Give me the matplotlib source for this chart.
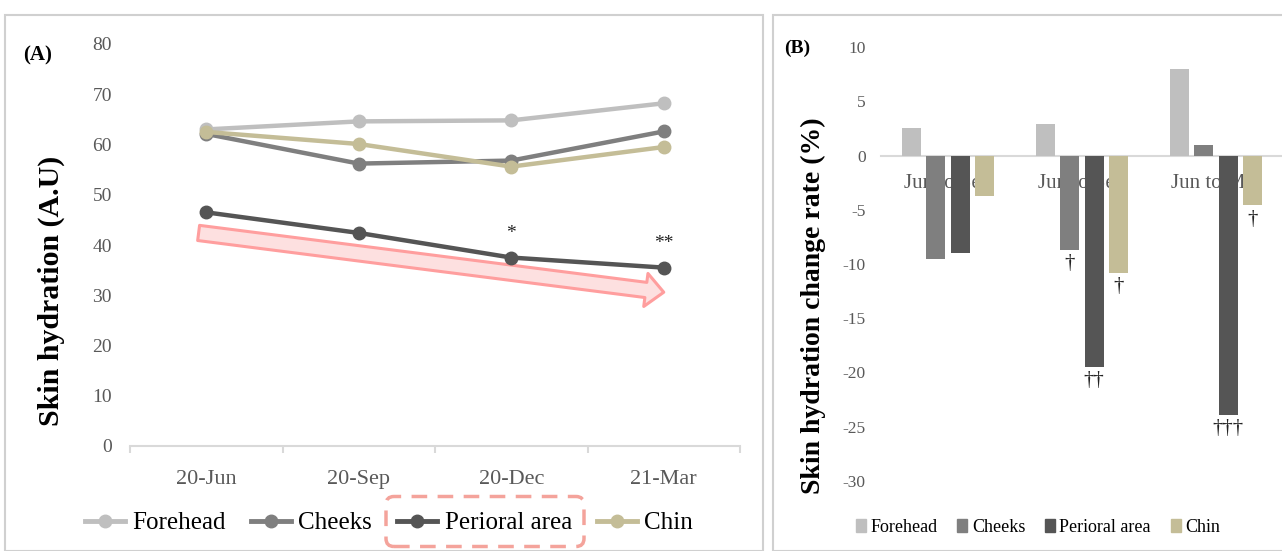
import numpy as np
import matplotlib.pyplot as plt
from matplotlib.lines import Line2D
from matplotlib.patches import Patch, Rectangle, FancyArrowPatch, FancyBboxPatch

plt.rcParams['font.family'] = ['Liberation Serif', 'DejaVu Serif']
plt.rcParams['axes.unicode_minus'] = False

# panel A data: skin hydration (A.U)
months = ['20-Jun', '20-Sep', '20-Dec', '21-Mar']
forehead = [63.0, 64.6, 64.8, 68.2]
cheeks = [62.1, 56.2, 56.8, 62.6]
perioral = [46.5, 42.4, 37.5, 35.5]
chin = [62.5, 60.1, 55.6, 59.5]
stars = ['', '', '*', '**']

# panel B data: change rate (%)
periods = ['Jun to Sep', 'Jun to Sep', 'Jun to Mar']
rate_forehead = [2.5, 2.9, 8.0]
rate_cheeks = [-9.5, -8.7, 0.95]
rate_perioral = [-9.0, -19.5, -23.9]
rate_chin = [-3.7, -10.8, -4.6]
daggers = [['', '', '', ''], ['', '†', '††', '†'], ['', '', '†††', '†']]

regions = ['Forehead', 'Cheeks', 'Perioral area', 'Chin']
colors = ['#BFBFBF', '#7F7F7F', '#555555', '#C4BD97']
tick_col = '#595959'
axis_col = '#D9D9D9'

W, H = 1282, 551
fig = plt.figure(figsize=(W / 100, H / 100), dpi=100)

# panel frames
fig.add_artist(Rectangle((4.5 / W, 0), (763 - 4.5) / W, 1 - 15 / H, transform=fig.transFigure,
                         fill=False, ec='#D0D0D0', lw=1.5))
fig.add_artist(Rectangle((773 / W, 0), (1300 - 773) / W, 1 - 15 / H, transform=fig.transFigure,
                         fill=False, ec='#D0D0D0', lw=1.5))

# ---- panel A
ax1 = fig.add_axes([130 / W, (H - 446) / H, 610 / W, 402 / H])
x = np.arange(len(months))
for vals, c in zip([forehead, cheeks, perioral, chin], colors):
    ax1.plot(x, vals, color=c, lw=3.2, marker='o', ms=9, zorder=3)
for i, s in enumerate(stars):
    if s:
        ax1.annotate(s, (x[i], perioral[i]), xytext=(0, 11), textcoords='offset points',
                     ha='center', va='bottom', fontsize=14, color='#222222')

arrow = FancyArrowPatch((-0.05, 42.4), (3.0, 30.6), arrowstyle='simple,head_length=13,head_width=24,tail_width=11',
                        mutation_scale=1, shrinkA=0, shrinkB=0, fc='#FDE0E0', ec='#FF9E9E', lw=2.2, zorder=2)
ax1.add_patch(arrow)

ax1.set_xlim(-0.5, 3.5)
ax1.set_ylim(0, 80)
ax1.set_yticks(range(0, 81, 10))
ax1.set_xticks(x)
ax1.set_xticklabels(months)
ax1.set_xticks(np.arange(-0.5, 3.6, 1), minor=True)
ax1.tick_params(axis='x', which='major', length=0, pad=17, labelsize=16, labelcolor=tick_col)
ax1.tick_params(axis='x', which='minor', length=5, width=1.5, color=axis_col, direction='out')
ax1.tick_params(axis='y', length=0, pad=13, labelsize=14, labelcolor=tick_col)
for sp in ['top', 'right', 'left']:
    ax1.spines[sp].set_visible(False)
ax1.spines['bottom'].set_color(axis_col)
ax1.spines['bottom'].set_linewidth(1.5)

fig.text(51 / W, (H - 291) / H, 'Skin hydration (A.U)', rotation=90, ha='center', va='center',
         fontsize=21.5, fontweight='bold')
fig.text(38 / W, (H - 55) / H, '(A)', ha='center', va='center', fontsize=15, fontweight='bold')

h1 = [Line2D([], [], color=c, lw=3.5, marker='o', ms=9) for c in colors]
fig.legend(h1, regions, loc='center', bbox_to_anchor=(389 / W, (H - 523) / H), ncol=4, frameon=False,
           prop={'family': 'Liberation Serif', 'size': 18},
           handlelength=1.6, handletextpad=0.3, columnspacing=1.0)
# dashed highlight round the perioral legend entry (inches)
box = FancyBboxPatch((3.86, 0.045), 1.98, 0.50, transform=fig.dpi_scale_trans,
                     boxstyle='round,pad=0,rounding_size=0.08', fill=False, ec='#F4A39B',
                     lw=2.5, ls=(0, (4.5, 3)))
fig.add_artist(box)

# ---- panel B
ax2 = fig.add_axes([881 / W, (H - 481) / H, 402 / W, 434 / H])
gx = np.arange(len(periods))
step, bw = 0.182, 0.142
offsets = (np.arange(4) - 1.5) * step
series = [rate_forehead, rate_cheeks, rate_perioral, rate_chin]
for j, (vals, c) in enumerate(zip(series, colors)):
    ax2.bar(gx + offsets[j], vals, width=bw, color=c, zorder=2)
    for i, v in enumerate(vals):
        if daggers[i][j]:
            ax2.annotate(daggers[i][j], (gx[i] + offsets[j], v), xytext=(0, -3), textcoords='offset points',
                         ha='center', va='top', fontsize=15, color='#222222')
for i, p in enumerate(periods):
    ax2.text(gx[i], -1.7, p, ha='center', va='top', fontsize=15, color=tick_col, zorder=1)

ax2.set_xlim(-0.5, 2.5)
ax2.set_ylim(-30, 10)
ax2.set_yticks(range(-30, 11, 5))
ax2.set_xticks([])
ax2.tick_params(axis='y', length=0, pad=11, labelsize=12.5, labelcolor=tick_col)
for sp in ['top', 'right', 'left']:
    ax2.spines[sp].set_visible(False)
ax2.spines['bottom'].set_position(('data', 0))
ax2.spines['bottom'].set_color(axis_col)
ax2.spines['bottom'].set_linewidth(1.5)
ax2.spines['bottom'].set_zorder(1.5)

fig.text(813 / W, (H - 306) / H, 'Skin hydration change rate (%)', rotation=90, ha='center', va='center',
         fontsize=20, fontweight='bold')
fig.text(797 / W, (H - 48) / H, '(B)', ha='center', va='center', fontsize=14, fontweight='bold')

h2 = [Patch(color=c) for c in colors]
fig.legend(h2, regions, loc='center', bbox_to_anchor=(1038 / W, (H - 527) / H), ncol=4, frameon=False,
           prop={'family': 'Liberation Serif', 'size': 13},
           handlelength=0.55, handleheight=0.75, handletextpad=0.25, columnspacing=1.1)

fig.savefig('out.png', dpi=100)
